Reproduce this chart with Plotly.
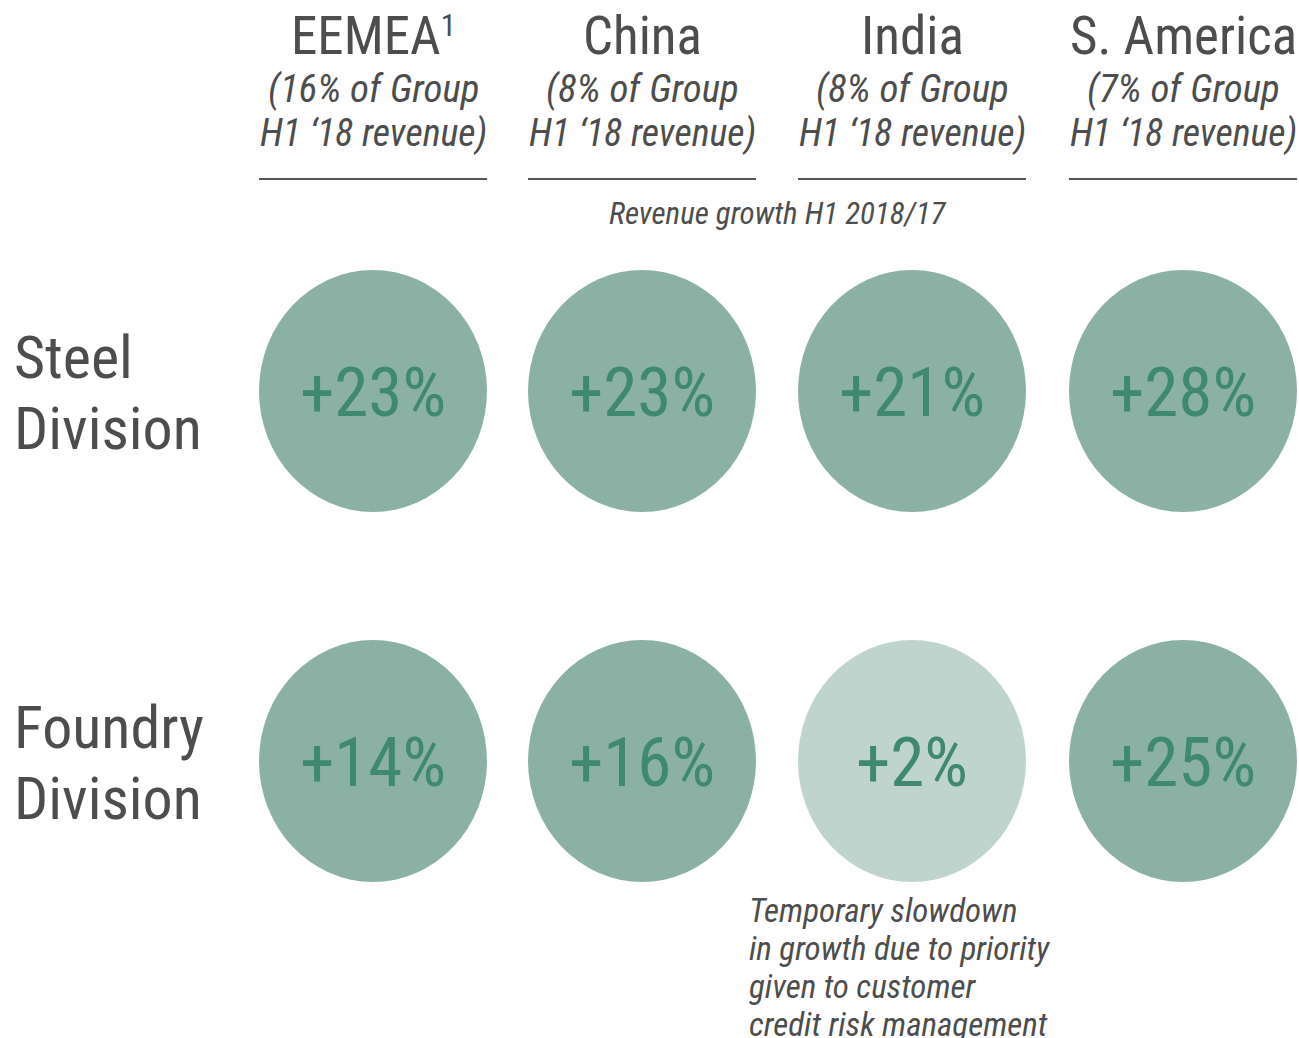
import plotly.graph_objects as go

# Regions (columns) and their share of group revenue
regions = ["EEMEA", "China", "India", "S. America"]
region_marks = ["1", "", "", ""]
revenue_share = [16, 8, 8, 7]

# Divisions (rows) and revenue growth H1 2018/17 in %
divisions = ["Steel", "Foundry"]
growth = {
    "Steel": [23, 23, 21, 28],
    "Foundry": [14, 16, 2, 25],
}

axis_title = "Revenue growth H1 2018/17"
note_lines = [
    "Temporary slowdown",
    "in growth due to priority",
    "given to customer",
    "credit risk management",
]

# Layout constants (pixel space)
W, H = 1299, 1038
col_x = [373, 642, 912, 1183]
row_y = [391, 761]
rx, ry = 114, 121

FONT = "Liberation Sans Narrow, Arial Narrow, Roboto Condensed, sans-serif"
GREY = "#4d4d4d"
FILL = "#8bb1a4"
FILL_LOW = "#bed4cc"
VALUE_COL = "#3f8871"
LOW_GROWTH = 5

fig = go.Figure()
shapes = []
annotations = []

# Column headers
for i, name in enumerate(regions):
    title = name + (f"<span style='font-size:44px'><sup>{region_marks[i]}</sup></span>"
                    if region_marks[i] else "")
    annotations.append(dict(x=col_x[i], y=36, text=title, showarrow=False,
                            xanchor="center", yanchor="middle",
                            font=dict(family=FONT, size=53, color=GREY)))
    annotations.append(dict(x=col_x[i], y=89, text=f"<i>({revenue_share[i]}% of Group</i>",
                            showarrow=False, xanchor="center", yanchor="middle",
                            font=dict(family=FONT, size=39, color=GREY)))
    annotations.append(dict(x=col_x[i], y=133, text="<i>H1 \u201818 revenue)</i>",
                            showarrow=False, xanchor="center", yanchor="middle",
                            font=dict(family=FONT, size=38, color=GREY)))
    shapes.append(dict(type="line", xref="x", yref="y",
                       x0=col_x[i] - rx, x1=col_x[i] + rx, y0=179, y1=179,
                       line=dict(color="#555555", width=2)))

annotations.append(dict(x=(col_x[0] + col_x[-1]) / 2, y=213, text=f"<i>{axis_title}</i>",
                        showarrow=False, xanchor="center", yanchor="middle",
                        font=dict(family=FONT, size=31, color=GREY)))

# Row labels
for r, div in enumerate(divisions):
    annotations.append(dict(x=12, y=row_y[r] - 34, text=div, showarrow=False,
                            xanchor="left", yanchor="middle",
                            font=dict(family=FONT, size=60, color=GREY)))
    annotations.append(dict(x=12, y=row_y[r] + 37, text="Division", showarrow=False,
                            xanchor="left", yanchor="middle",
                            font=dict(family=FONT, size=60, color=GREY)))

# Growth bubbles
for r, div in enumerate(divisions):
    for i, v in enumerate(growth[div]):
        cx, cy = col_x[i], row_y[r]
        shapes.append(dict(type="circle", xref="x", yref="y",
                           x0=cx - rx, x1=cx + rx, y0=cy - ry, y1=cy + ry,
                           fillcolor=FILL_LOW if v < LOW_GROWTH else FILL,
                           line=dict(width=0), layer="below"))
        annotations.append(dict(x=cx, y=cy + 1, text=f"+{v}%", showarrow=False,
                                xanchor="center", yanchor="middle",
                                font=dict(family=FONT, size=69, color=VALUE_COL)))

# Note under the low-growth bubble
for k, line in enumerate(note_lines):
    annotations.append(dict(x=747, y=910 + 38 * k, text=f"<i>{line}</i>", showarrow=False,
                            xanchor="left", yanchor="middle",
                            font=dict(family=FONT, size=33, color=GREY)))

fig.update_layout(
    width=W, height=H,
    margin=dict(l=0, r=0, t=0, b=0),
    paper_bgcolor="white", plot_bgcolor="white",
    xaxis=dict(range=[0, W], visible=False, fixedrange=True),
    yaxis=dict(range=[H, 0], visible=False, fixedrange=True),
    shapes=shapes, annotations=annotations, showlegend=False,
)

fig.write_html("out.html")
